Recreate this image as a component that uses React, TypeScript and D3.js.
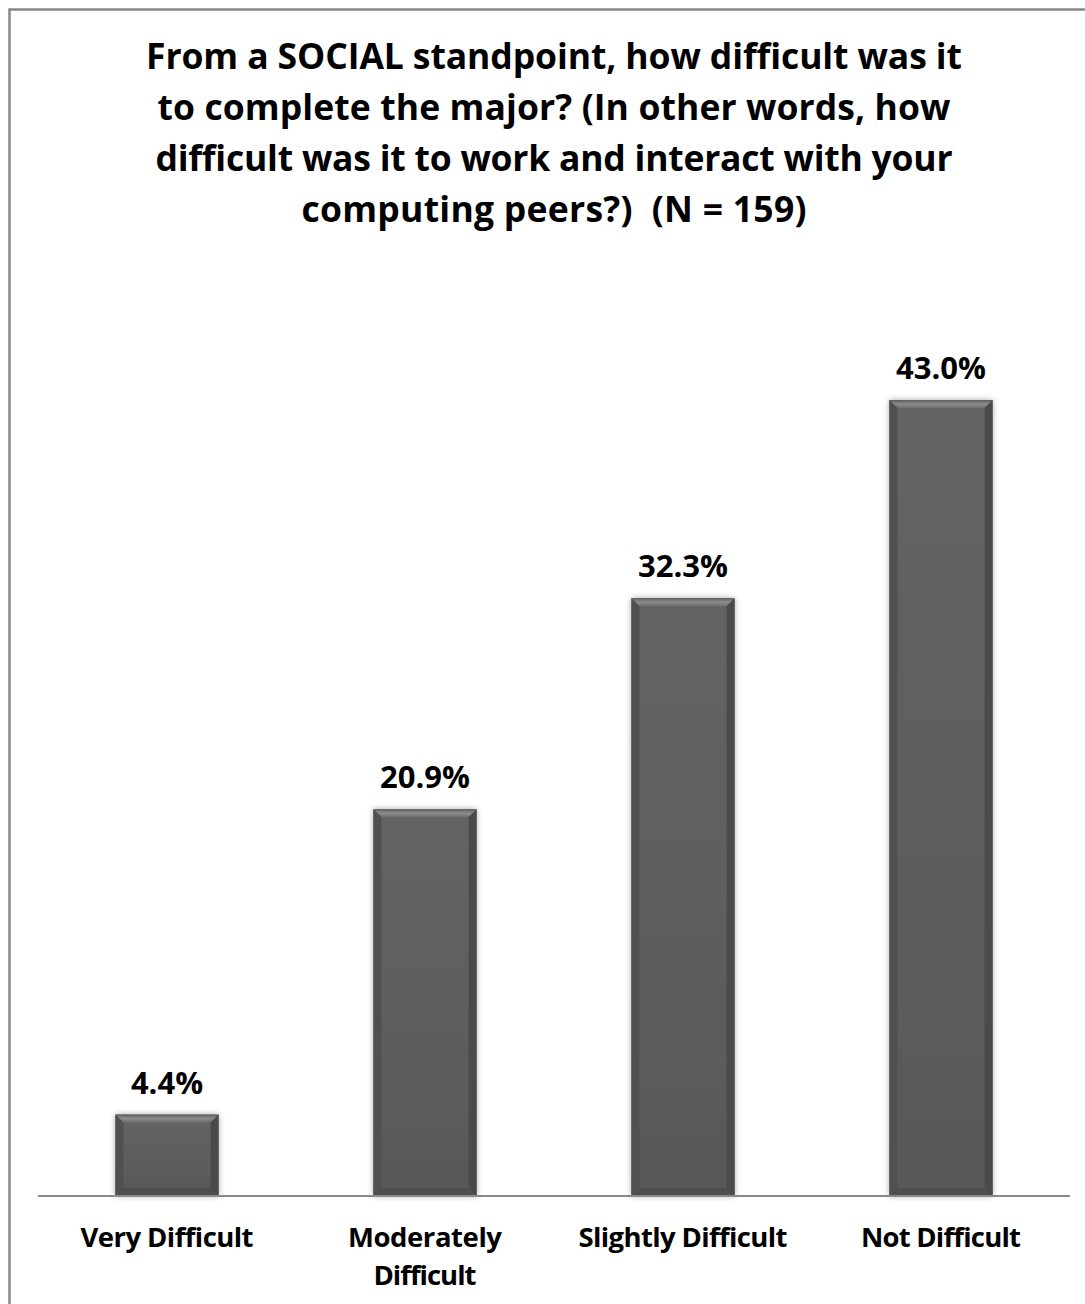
import React from "react";
import * as d3 from "d3";

const categories: string[][] = [["Very Difficult"], ["Moderately", "Difficult"], ["Slightly Difficult"], ["Not Difficult"]];
const categoryWidths: number[][] = [[173], [154, 103], [209], [160]];
const values: number[] = [4.4, 20.9, 32.3, 43.0];
const valueLabels: string[] = ["4.4%", "20.9%", "32.3%", "43.0%"];
const titleLines: string[] = [
  "From a SOCIAL standpoint, how difficult was it",
  "to complete the major? (In other words, how",
  "difficult was it to work and interact with your",
  "computing peers?)\u00a0 (N = 159)",
];
const titleWidths: number[] = [816, 793, 797, 505];

const W = 1085;
const H = 1304;
const FONT = "'Open Sans', Lato, sans-serif";

export default function App() {
  const x = d3.scaleBand<number>().domain(d3.range(values.length)).range([38, 1070]).paddingInner(0.6).paddingOuter(0.3);
  const y = d3.scaleLinear().domain([0, 50]).range([1196, 270.5]);
  const bw = x.bandwidth();
  const bev = 8;
  const txtStyle = { fontVariantLigatures: "none" as const };
  return (
    <svg width={W} height={H} style={{ position: "absolute", left: 0, top: 0 }} xmlns="http://www.w3.org/2000/svg">
      <defs>
        <linearGradient id="face" x1="0" y1="0" x2="0" y2="1">
          <stop offset="0" stopColor="#646464" />
          <stop offset="1" stopColor="#585858" />
        </linearGradient>
        <linearGradient id="topbev" x1="0" y1="0" x2="0" y2="1">
          <stop offset="0" stopColor="#5e5e5e" />
          <stop offset="0.5" stopColor="#8c8c8c" />
          <stop offset="1" stopColor="#6e6e6e" />
        </linearGradient>
        <filter id="sh" x="-20%" y="-20%" width="140%" height="140%">
          <feGaussianBlur in="SourceAlpha" stdDeviation="3" />
          <feOffset dx="0" dy="0" result="b" />
          <feComponentTransfer><feFuncA type="linear" slope="0.35" /></feComponentTransfer>
          <feMerge><feMergeNode /><feMergeNode in="SourceGraphic" /></feMerge>
        </filter>
      </defs>
      <rect x={0} y={0} width={W} height={H} fill="#fff" />
      <rect x={9.5} y={9.5} width={W + 10} height={H + 10} fill="none" stroke="#868686" strokeWidth={2.5} />
      {titleLines.map((t, i) => (
        <text key={i} x={554} y={69 + i * 51} textAnchor="middle" fontFamily={FONT} fontWeight={700} fontSize={35.5}
          fill="#000" textLength={titleWidths[i]} lengthAdjust="spacing" style={txtStyle}>
          {t}
        </text>
      ))}
      {values.map((v, i) => {
        const x0 = x(i)!;
        const y0 = y(v);
        const y1 = y(0);
        const x1 = x0 + bw;
        return (
          <g key={i}>
            <g filter="url(#sh)">
              <rect x={x0} y={y0} width={bw} height={y1 - y0} fill="url(#face)" />
            </g>
            <polygon points={`${x0},${y0} ${x1},${y0} ${x1 - bev},${y0 + bev} ${x0 + bev},${y0 + bev}`} fill="url(#topbev)" />
            <polygon points={`${x0},${y0} ${x0 + bev},${y0 + bev} ${x0 + bev},${y1 - bev} ${x0},${y1}`} fill="#505050" />
            <polygon points={`${x1},${y0} ${x1 - bev},${y0 + bev} ${x1 - bev},${y1 - bev} ${x1},${y1}`} fill="#4a4a4a" />
            <polygon points={`${x0},${y1} ${x0 + bev},${y1 - bev} ${x1 - bev},${y1 - bev} ${x1},${y1}`} fill="#4e4e4e" />
            <text x={x0 + bw / 2} y={y0 - 21} textAnchor="middle" fontFamily={FONT} fontWeight={700} fontSize={31} fill="#000" style={txtStyle}>
              {valueLabels[i]}
            </text>
          </g>
        );
      })}
      <line x1={38} x2={1070} y1={1196} y2={1196} stroke="#8a8a8a" strokeWidth={2} />
      {categories.map((lines, i) =>
        lines.map((l, j) => (
          <text key={`${i}-${j}`} x={x(i)! + bw / 2} y={1247 + j * 38} textAnchor="middle" fontFamily={FONT} fontWeight={700}
            fontSize={27.5} fill="#000" textLength={categoryWidths[i][j]} lengthAdjust="spacing" style={txtStyle}>
            {l}
          </text>
        ))
      )}
    </svg>
  );
}
